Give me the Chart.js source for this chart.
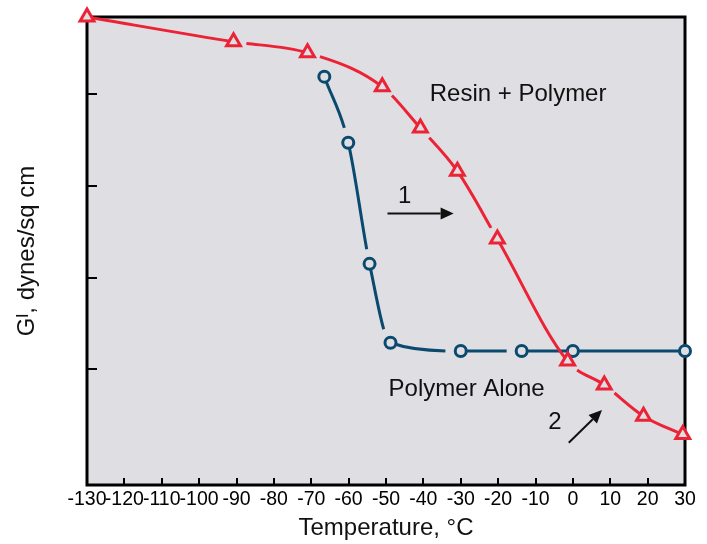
<!DOCTYPE html>
<html>
<head>
<meta charset="utf-8">
<script src="https://cdn.jsdelivr.net/npm/chart.js@4/dist/chart.umd.min.js"></script>
<style>
  html, body { margin: 0; padding: 0; background: #fff; }
  #wrap { width: 707px; height: 544px; }
</style>
</head>
<body>
<div id="wrap"><canvas id="gCanvas"></canvas></div>
<script>
// values (y is in tick units, the axis has no numbers)
const resinTemp = [-130, -90.8, -71, -51, -40.8, -30.9, -20.2, -1.4, 8.4, 18.9, 29.4];
const resinG    = [4.84, 4.57, 4.45, 4.08, 3.63, 3.16, 2.42, 1.09, 0.83, 0.49, 0.29];
const polyTemp  = [-66.5, -60.1, -54.4, -48.8, -30, -13.7, 0, 30];
const polyG     = [4.19, 3.47, 2.15, 1.29, 1.2, 1.2, 1.2, 1.2];
const xTicks = [-130, -120, -110, -100, -90, -80, -70, -60, -50, -40, -30, -20, -10, 0, 10, 20, 30];
const yTicks = [1, 2, 3, 4];

// where the drawn lines break off next to a marker (one entry per segment)
const resinGaps = ["", "start", "start", "start", "start", "end", "", "start", "start", ""];
const polyGaps  = ["end", "end", "end", "end", "end", "", ""];

const plotBg = "#dfdfe3";
const red = "#ec2336";
const blue = "#0b4a6f";
const font = "'Liberation Sans', Arial, sans-serif";

// labels and arrows placed in data units
const notes = [
    { text: "Resin + Polymer", x: -38.3, y: 3.92, align: "left" },
    { text: "Polymer Alone", x: -49.3, y: 0.71, align: "left" },
    { text: "1", x: -45, y: 2.81, align: "center" },
    { text: "2", x: -4.8, y: 0.35, align: "center" }
];
const arrows = [
    { from: [-49.6, 2.70], to: [-31.9, 2.70] },
    { from: [-1.1, 0.20], to: [7.8, 0.556] }
];

const pts = (xs, ys) => xs.map((v, i) => ({ x: v, y: ys[i] }));

function gapDash(gaps, g) {
    return ctx => {
        const kind = gaps[ctx.p0DataIndex];
        const len = Math.hypot(ctx.p1.x - ctx.p0.x, ctx.p1.y - ctx.p0.y);
        if (kind === "start") return [0, g, len * 2 + 100, 0];
        if (kind === "end") return [Math.max(len - g, 0), len + 100];
        return [];
    };
}

const plotFrame = {
    id: "plotFrame",
    beforeDraw(chart) {
        const { ctx, chartArea: a } = chart;
        ctx.save();
        ctx.fillStyle = plotBg;
        ctx.fillRect(a.left, a.top, a.right - a.left, a.bottom - a.top);
        ctx.restore();
    },
    beforeDatasetsDraw(chart) {
        const { ctx, chartArea: a, scales } = chart;
        ctx.save();
        ctx.strokeStyle = "#000";
        ctx.lineWidth = 2;
        ctx.beginPath();
        xTicks.slice(1, -1).forEach(v => {
            const px = Math.round(scales.x.getPixelForValue(v));
            ctx.moveTo(px, a.bottom);
            ctx.lineTo(px, a.bottom - 7);
        });
        yTicks.forEach(v => {
            const py = Math.round(scales.y.getPixelForValue(v));
            ctx.moveTo(a.left, py);
            ctx.lineTo(a.left + 10, py);
        });
        ctx.stroke();
        ctx.lineWidth = 3;
        ctx.strokeRect(a.left, a.top, a.right - a.left, a.bottom - a.top);
        ctx.restore();
    },
    afterDatasetsDraw(chart) {
        const { ctx, scales } = chart;
        ctx.save();
        ctx.fillStyle = "#111";
        ctx.strokeStyle = "#111";
        ctx.font = "24px " + font;
        ctx.textBaseline = "alphabetic";
        notes.forEach(n => {
            ctx.textAlign = n.align;
            ctx.fillText(n.text, scales.x.getPixelForValue(n.x), scales.y.getPixelForValue(n.y));
        });
        arrows.forEach(ar => {
            const x1 = scales.x.getPixelForValue(ar.from[0]), y1 = scales.y.getPixelForValue(ar.from[1]);
            const x2 = scales.x.getPixelForValue(ar.to[0]), y2 = scales.y.getPixelForValue(ar.to[1]);
            const ang = Math.atan2(y2 - y1, x2 - x1);
            const hl = 13, hw = 6;
            const bx = x2 - hl * Math.cos(ang), by = y2 - hl * Math.sin(ang);
            ctx.lineWidth = 2;
            ctx.beginPath();
            ctx.moveTo(x1, y1);
            ctx.lineTo(bx, by);
            ctx.stroke();
            ctx.beginPath();
            ctx.moveTo(x2, y2);
            ctx.lineTo(bx + hw * Math.sin(ang), by - hw * Math.cos(ang));
            ctx.lineTo(bx - hw * Math.sin(ang), by + hw * Math.cos(ang));
            ctx.closePath();
            ctx.fill();
        });
        ctx.restore();
    }
};

new Chart(document.getElementById("gCanvas"), {
    type: "line",
    data: {
        datasets: [
            {
                label: "Resin + Polymer",
                data: pts(resinTemp, resinG),
                borderColor: red,
                borderWidth: 3,
                pointStyle: "triangle",
                pointRadius: 8,
                pointBorderWidth: 3,
                pointBorderColor: red,
                pointBackgroundColor: plotBg,
                cubicInterpolationMode: "monotone",
                segment: { borderDash: gapDash(resinGaps, 13) },
                clip: false
            },
            {
                label: "Polymer Alone",
                data: pts(polyTemp, polyG),
                borderColor: blue,
                borderWidth: 3,
                pointStyle: "circle",
                pointRadius: 5.5,
                pointBorderWidth: 3,
                pointBorderColor: blue,
                pointBackgroundColor: plotBg,
                cubicInterpolationMode: "monotone",
                segment: { borderDash: gapDash(polyGaps, 15) },
                clip: false
            }
        ]
    },
    options: {
        responsive: true,
        maintainAspectRatio: false,
        animation: false,
        layout: { padding: { top: 17, right: 22, left: 0, bottom: 0 } },
        plugins: { legend: { display: false }, tooltip: { enabled: false } },
        scales: {
            x: {
                type: "linear",
                min: -130,
                max: 30,
                afterBuildTicks: s => { s.ticks = xTicks.map(v => ({ value: v })); },
                afterFit: s => { s.height = 59; },
                grid: { display: false, drawTicks: false },
                border: { display: false },
                ticks: {
                    autoSkip: false,
                    maxRotation: 0,
                    padding: 3,
                    color: "#000",
                    font: { family: font, size: 19.5 }
                },
                title: {
                    display: true,
                    text: "Temperature, °C",
                    color: "#111",
                    font: { family: font, size: 24 },
                    padding: { top: 0, bottom: 1 }
                }
            },
            y: {
                type: "linear",
                min: -0.26,
                max: 4.84,
                afterBuildTicks: s => { s.ticks = yTicks.map(v => ({ value: v })); },
                afterFit: s => { s.width = 87; },
                grid: { display: false, drawTicks: false },
                border: { display: false },
                ticks: { display: false },
                title: {
                    display: true,
                    text: "Gᴵ, dynes/sq cm",
                    color: "#111",
                    font: { family: font, size: 24 },
                    padding: { top: 13, bottom: 0 }
                }
            }
        }
    },
    plugins: [plotFrame]
});
</script>
</body>
</html>
